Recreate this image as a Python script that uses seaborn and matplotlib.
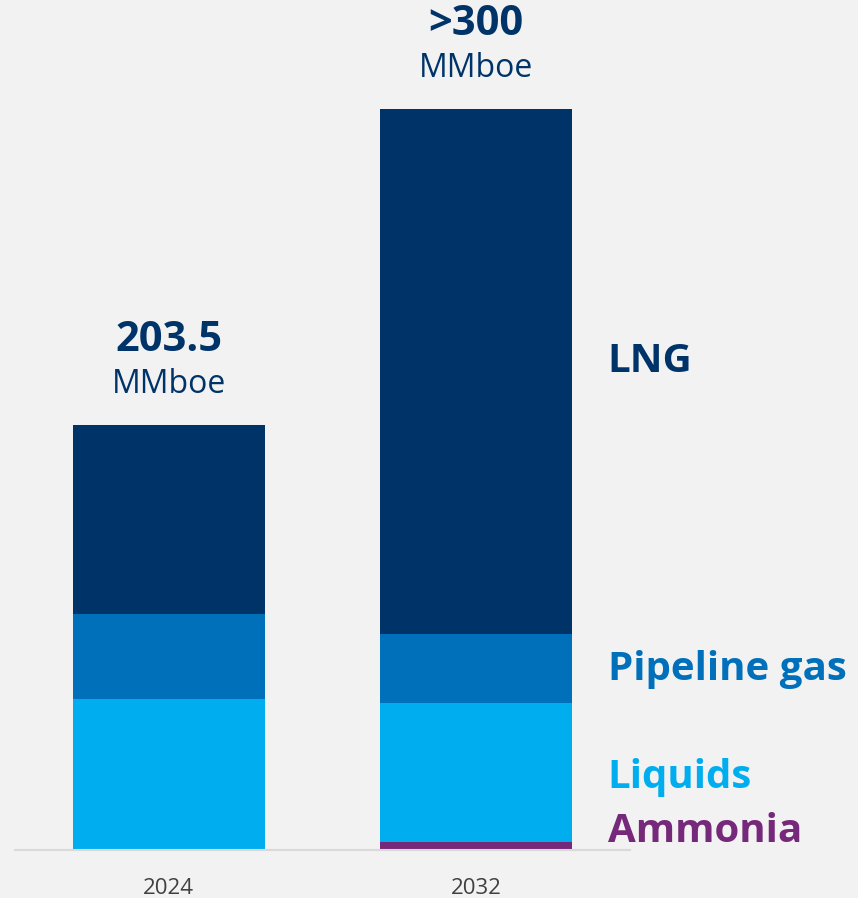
import matplotlib
matplotlib.use("Agg")
import matplotlib.pyplot as plt
import seaborn as sns
import pandas as pd
import numpy as np

# Production mix by year (MMboe)
years = ["2024", "2032"]
ammonia = [0.0, 3.8]
liquids = [72.3, 66.6]
pipeline_gas = [40.7, 33.0]
lng = [90.5, 251.4]
total_labels = ["203.5", ">300"]

segment_names = ["LNG", "Pipeline gas", "Liquids", "Ammonia"]
segment_colors = ["#003469", "#0070BA", "#00AEEF", "#76287A"]

sns.set_theme(style="white")
plt.rcParams["font.family"] = ["Open Sans", "DejaVu Sans"]

bg = "#F2F2F2"
fig = plt.figure(figsize=(8.58, 8.98), dpi=100, facecolor=bg)
ax = fig.add_axes([15 / 858, 48 / 898, 615 / 858, 850 / 898], facecolor=bg)

df = pd.DataFrame({
    "year": years,
    "Ammonia": ammonia,
    "Liquids": liquids,
    "Pipeline gas": pipeline_gas,
    "LNG": lng,
})
# cumulative heights, drawn from the tallest layer downwards
df["cum_Ammonia"] = df["Ammonia"]
df["cum_Liquids"] = df["cum_Ammonia"] + df["Liquids"]
df["cum_Pipeline gas"] = df["cum_Liquids"] + df["Pipeline gas"]
df["cum_LNG"] = df["cum_Pipeline gas"] + df["LNG"]

for name, color in zip(segment_names, segment_colors):
    sns.barplot(data=df, x="year", y="cum_" + name, color=color,
                width=0.625, saturation=1, linewidth=0, ax=ax, zorder=2)

ax.set_xlim(-0.5, 1.5)
ax.set_ylim(0, 407)
ax.set_xlabel("")
ax.set_ylabel("")
ax.set_yticks([])
for side in ["left", "right", "top"]:
    ax.spines[side].set_visible(False)
ax.spines["bottom"].set_color("#D9D9D9")
ax.spines["bottom"].set_linewidth(1.5)
ax.tick_params(axis="x", length=0, pad=20, labelsize=16, labelcolor="#404040")

# totals above each bar
for i, (tot, lab) in enumerate(zip(df["cum_LNG"], total_labels)):
    ax.annotate(lab, (i, tot), xytext=(0, 53), textcoords="offset points",
                ha="center", va="baseline", fontsize=30, fontweight="bold",
                color="#003469", annotation_clip=False)
    ax.annotate("MMboe", (i, tot), xytext=(0, 23), textcoords="offset points",
                ha="center", va="baseline", fontsize=23,
                color="#003469", annotation_clip=False)

# segment names to the right of the bars
label_y = [0.562, 0.200, 0.073, 0.0094]
for name, color, y in zip(segment_names, segment_colors, label_y):
    ax.text(0.964, y, name, transform=ax.transAxes, ha="left", va="baseline",
            fontsize=29, fontweight="bold", color=color, clip_on=False)

fig.savefig("out.png", dpi=100, facecolor=bg)
